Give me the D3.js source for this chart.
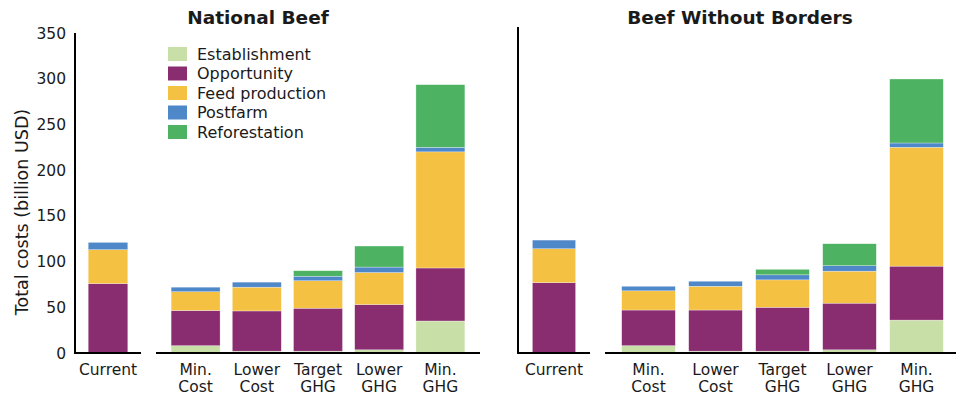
<!DOCTYPE html>
<html>
<head>
<meta charset="utf-8">
<script src="https://cdn.jsdelivr.net/npm/d3@7"></script>
<style>
  body { margin: 0; background: #fff; }
  text { font-family: "DejaVu Sans", sans-serif; fill: #1a1a1a; }
</style>
</head>
<body>
<div id="chart"></div>
<script>
// Data (billion USD)
var scenarios = ["Current", "Min.\nCost", "Lower\nCost", "Target\nGHG", "Lower\nGHG", "Min.\nGHG"];
var components = ["Establishment", "Opportunity", "Feed production", "Postfarm", "Reforestation"];
var componentColors = ["#c8e0a8", "#8a2d70", "#f5c142", "#4f88c8", "#4db362"];
var yTicks = [0, 50, 100, 150, 200, 250, 300, 350];

// National Beef
var nbEstablishment = [0, 8, 2, 2, 3.5, 35];
var nbOpportunity   = [76, 38.5, 44, 47, 49.5, 58];
var nbFeed          = [37, 20.5, 26, 30, 35, 127];
var nbPostfarm      = [8, 5, 5.5, 5, 6, 5];
var nbReforestation = [0, 0, 0, 6, 23, 68.5];

// Beef Without Borders
var bwbEstablishment = [0, 8, 2, 2, 3.5, 36];
var bwbOpportunity   = [77, 39, 45, 48, 51, 59];
var bwbFeed          = [37, 21, 26, 30, 35, 130];
var bwbPostfarm      = [9.5, 5, 5.5, 5.5, 6, 4.7];
var bwbReforestation = [0, 0, 0, 6, 24, 70];

var W = 956, H = 400;
var svg = d3.select("#chart").append("svg")
  .attr("width", W).attr("height", H);

function tableOf(series) {
  return scenarios.map(function(s, i) {
    var row = { scenario: s };
    components.forEach(function(c, j) { row[c] = series[j][i]; });
    return row;
  });
}

// Panel layouts
var panels = [
  { title: "National Beef", titleX: 258, yAxisX: 75, yTop: 33,
    current: [75, 141], rest: [156, 480], band: [165, 471],
    series: [nbEstablishment, nbOpportunity, nbFeed, nbPostfarm, nbReforestation], ticks: true },
  { title: "Beef Without Borders", titleX: 740, yAxisX: 518, yTop: 27,
    current: [518, 590], rest: [605, 956], band: [615, 950],
    series: [bwbEstablishment, bwbOpportunity, bwbFeed, bwbPostfarm, bwbReforestation], ticks: false }
];

var y = d3.scaleLinear().domain([0, 350]).range([353, 33]);
var stack = d3.stack().keys(components);

panels.forEach(function(p) {
  var g = svg.append("g");
  var layers = stack(tableOf(p.series));

  var xCur = d3.scaleBand().domain([scenarios[0]]).range(p.current)
    .paddingInner(0.4).paddingOuter(0.2);
  var xRest = d3.scaleBand().domain(scenarios.slice(1)).range(p.band)
    .paddingInner(0.2).paddingOuter(0.1);
  function xPos(s) { return s === scenarios[0] ? xCur(s) : xRest(s); }
  function bw(s) { return s === scenarios[0] ? xCur.bandwidth() : xRest.bandwidth(); }

  //Barras empilhadas
  g.selectAll(".layer").data(layers).enter().append("g")
    .attr("fill", function(d, i) { return componentColors[i]; })
    .selectAll("rect").data(function(d) { return d; }).enter().append("rect")
    .attr("x", function(d) { return xPos(d.data.scenario); })
    .attr("width", function(d) { return bw(d.data.scenario); })
    .attr("y", function(d) { return y(d[1]); })
    .attr("height", function(d) { return Math.max(0, y(d[0]) - y(d[1])); })
    .attr("stroke", "#fff").attr("stroke-width", 0.5).attr("stroke-opacity", 0.6);

  //Eixos
  g.append("line").attr("x1", p.yAxisX).attr("x2", p.yAxisX)
    .attr("y1", p.yTop).attr("y2", y(0) + 1)
    .attr("stroke", "#000").attr("stroke-width", 2);
  g.append("line").attr("x1", p.current[0]).attr("x2", p.current[1])
    .attr("y1", y(0)).attr("y2", y(0)).attr("stroke", "#000").attr("stroke-width", 2);
  g.append("line").attr("x1", p.rest[0]).attr("x2", p.rest[1])
    .attr("y1", y(0)).attr("y2", y(0)).attr("stroke", "#000").attr("stroke-width", 2);

  if (p.ticks) {
    g.selectAll(".ytick").data(yTicks).enter().append("text")
      .attr("x", p.yAxisX - 9).attr("y", function(d) { return y(d) + 5.5; })
      .attr("text-anchor", "end").attr("font-size", 15.5)
      .text(function(d) { return d; });
  }

  //Rótulos do eixo X
  var lab = g.selectAll(".xlab").data(scenarios).enter().append("text")
    .attr("text-anchor", "middle").attr("font-size", 15.5)
    .attr("transform", function(s) { return "translate(" + (xPos(s) + bw(s) / 2) + ",375)"; });
  lab.selectAll("tspan").data(function(s) { return s.split("\n"); }).enter().append("tspan")
    .attr("x", 0).attr("dy", function(d, i) { return i === 0 ? 0 : 17; })
    .text(function(d) { return d; });

  g.append("text").attr("x", p.titleX).attr("y", 24)
    .attr("text-anchor", "middle").attr("font-size", 18.5).attr("font-weight", "bold")
    .text(p.title);
});

// Y label
svg.append("text")
  .attr("transform", "translate(28,212) rotate(-90)")
  .attr("text-anchor", "middle").attr("font-size", 17.5)
  .text("Total costs (billion USD)");

// Legend
var legend = svg.append("g").attr("transform", "translate(168,47)");
var item = legend.selectAll("g").data(components).enter().append("g")
  .attr("transform", function(d, i) { return "translate(0," + (i * 19.5) + ")"; });
item.append("rect").attr("width", 19).attr("height", 14)
  .attr("fill", function(d, i) { return componentColors[i]; });
item.append("text").attr("x", 29).attr("y", 12.5).attr("font-size", 16)
  .text(function(d) { return d; });
</script>
</body>
</html>
